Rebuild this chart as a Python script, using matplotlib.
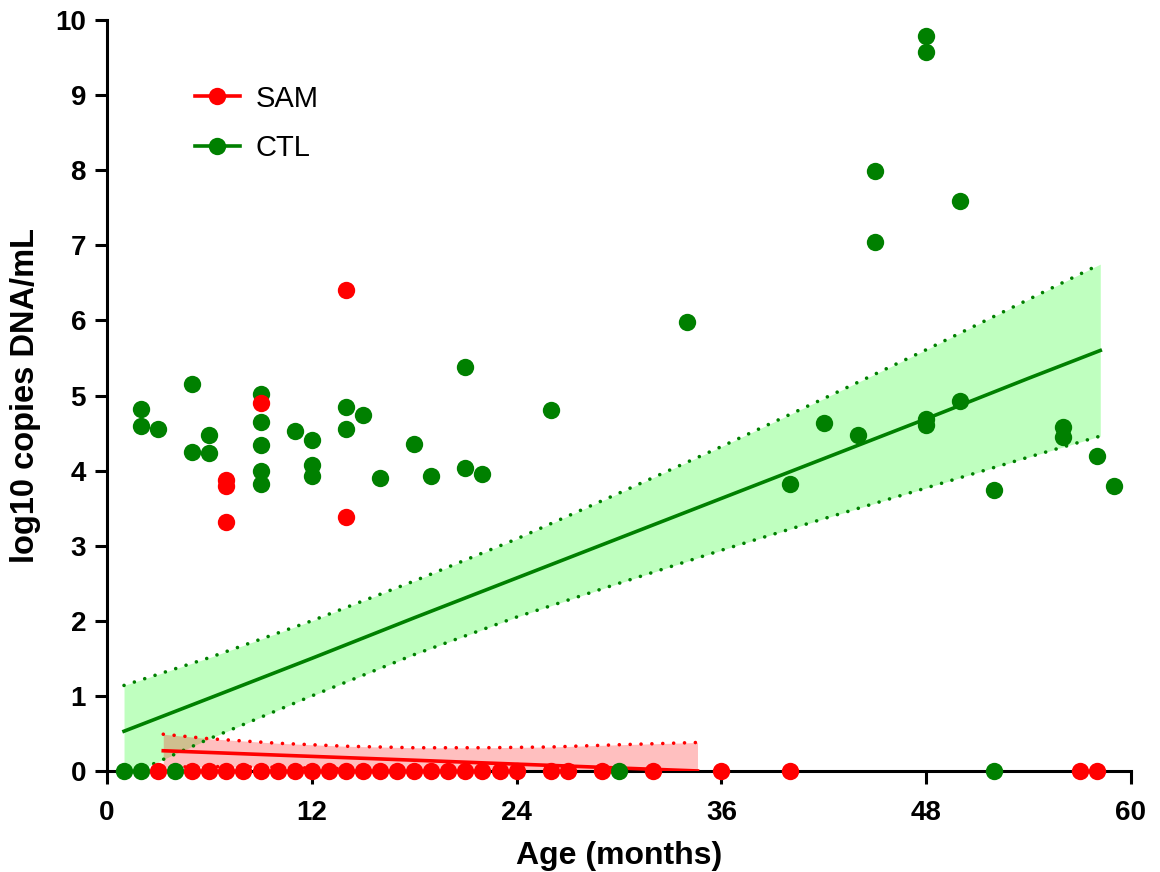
import numpy as np
import matplotlib.pyplot as plt
from matplotlib.lines import Line2D

plt.rcParams['font.family'] = ['Liberation Sans', 'DejaVu Sans']

# CTL (green) points: age in months, log10 copies
ctl_x = [1, 2, 4, 30, 52,
         2, 2, 3, 5, 5, 6, 6, 9, 9, 9, 9, 9, 11, 12, 12, 12,
         14, 14, 15, 16, 18, 19, 21, 21, 22, 26, 34,
         40, 42, 44, 45, 45, 48, 48, 48, 48, 50, 50, 52, 56, 56, 58, 59]
ctl_y = [0, 0, 0, 0, 0,
         4.82, 4.60, 4.55, 5.16, 4.25, 4.48, 4.23, 5.02, 4.65, 4.34, 3.99, 3.82, 4.53, 4.41, 4.07, 3.93,
         4.85, 4.56, 4.74, 3.90, 4.35, 3.93, 5.38, 4.04, 3.95, 4.81, 5.98,
         3.82, 4.63, 4.47, 7.99, 7.04, 9.79, 9.58, 4.69, 4.61, 7.59, 4.93, 3.74, 4.58, 4.45, 4.19, 3.79]

# SAM (red) points
sam_x = [3, 5, 6, 7, 8, 9, 10, 11, 12, 13, 14, 15, 16, 17, 18, 19, 20, 21, 22, 23, 24,
         26, 27, 29, 32, 36, 40, 57, 58,
         7, 7, 7, 9, 14, 14]
sam_y = [0] * 29 + [3.87, 3.79, 3.32, 4.90, 6.40, 3.38]

# fitted lines with 95% bands
ctl_fit_x = [1, 6, 12, 18, 24, 30, 36, 42, 48, 54, 58.2]
ctl_fit_y = [0.53, 0.97, 1.50, 2.04, 2.57, 3.10, 3.63, 4.16, 4.69, 5.23, 5.60]
ctl_hi = [1.14, 1.51, 2.00, 2.53, 3.09, 3.70, 4.32, 4.96, 5.61, 6.28, 6.75]
ctl_lo = [-0.08, 0.43, 1.00, 1.55, 2.05, 2.50, 2.94, 3.36, 3.77, 4.18, 4.46]

sam_fit_x = [3.3, 6, 10, 14, 18, 22, 26, 30, 34.6]
sam_fit_y = [0.27, 0.247, 0.212, 0.178, 0.144, 0.109, 0.075, 0.040, 0.001]
sam_hi = [0.49, 0.43, 0.37, 0.33, 0.31, 0.31, 0.32, 0.35, 0.38]
sam_lo = [0.05, 0.06, 0.05, 0.03, -0.03, -0.09, -0.17, -0.27, -0.38]

green = '#008000'
red = '#ff0000'
ms = 12.5

fig = plt.figure(figsize=(11.6, 8.72), dpi=100)
ax = fig.add_axes([0.0922, 0.1158, 0.8828, 0.8612])

ax.fill_between(ctl_fit_x, ctl_lo, ctl_hi, color=(0, 1, 0), alpha=0.25, lw=0, zorder=1)
ax.fill_between(sam_fit_x, sam_lo, sam_hi, color=(1, 0, 0), alpha=0.25, lw=0, zorder=1.1)

dots = dict(lw=2.6, dashes=(0.01, 3.0), dash_capstyle='round', zorder=2)
ax.plot(ctl_fit_x, ctl_hi, color=green, **dots)
ax.plot(ctl_fit_x, ctl_lo, color=green, **dots)
ax.plot(sam_fit_x, sam_hi, color=red, **dots)
ax.plot(sam_fit_x, sam_lo, color=red, **dots)

ax.plot(ctl_fit_x, ctl_fit_y, color=green, lw=2.6, zorder=3)
ax.plot(sam_fit_x, sam_fit_y, color=red, lw=2.6, zorder=3)

ax.plot(ctl_x, ctl_y, 'o', color=green, ms=ms, mew=0, zorder=4, clip_on=False)
ax.plot(sam_x, sam_y, 'o', color=red, ms=ms, mew=0, zorder=5, clip_on=False)

ax.set_xlim(0, 60)
ax.set_ylim(0, 10)
ax.set_xticks(range(0, 61, 12))
ax.set_yticks(range(0, 11))
for s in ['top', 'right']:
    ax.spines[s].set_visible(False)
for s in ['left', 'bottom']:
    ax.spines[s].set_linewidth(2.2)
ax.tick_params(width=2.2, length=9, labelsize=20, pad=6)
ax.tick_params(axis='x', pad=12)
for t in ax.get_xticklabels() + ax.get_yticklabels():
    t.set_fontweight('bold')

ax.set_xlabel('Age (months)', fontsize=23, fontweight='bold', labelpad=11)
ax.set_ylabel('log10 copies DNA/mL', fontsize=23.5, fontweight='bold', labelpad=10)

handles = [Line2D([], [], color=red, lw=2.6, marker='o', ms=ms, mew=0),
           Line2D([], [], color=green, lw=2.6, marker='o', ms=ms, mew=0)]
ax.legend(handles, ['SAM', 'CTL'], loc='upper left', bbox_to_anchor=(0.06, 0.949),
          frameon=False, fontsize=21, handlelength=1.55, handletextpad=0.55, labelspacing=0.75)

fig.savefig('out.png', dpi=100)
